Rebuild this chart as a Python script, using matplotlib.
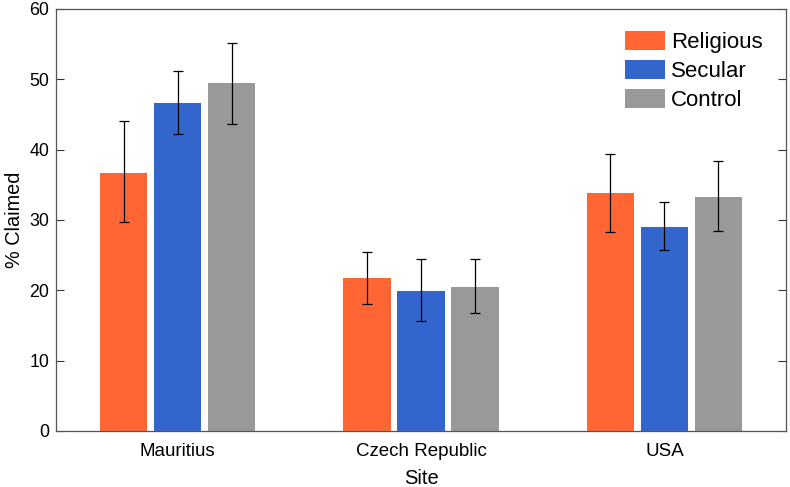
import matplotlib

matplotlib.use("Agg")
import matplotlib.pyplot as plt
import numpy as np

sites = ["Mauritius", "Czech Republic", "USA"]
conditions = ["Religious", "Secular", "Control"]

# mean % claimed per condition, one value per site
means = {
    "Religious": [36.7, 21.7, 33.8],
    "Secular": [46.6, 19.9, 29.0],
    "Control": [49.4, 20.5, 33.2],
}
# error bar ends (lower, upper)
err_lo = {
    "Religious": [29.7, 18.0, 28.3],
    "Secular": [42.2, 15.6, 25.7],
    "Control": [43.6, 16.8, 28.4],
}
err_hi = {
    "Religious": [44.0, 25.4, 39.4],
    "Secular": [51.2, 24.4, 32.5],
    "Control": [55.2, 24.4, 38.3],
}

colors = {"Religious": "#FF6633", "Secular": "#3366CC", "Control": "#999999"}

plt.rcParams["font.family"] = ["Liberation Sans", "DejaVu Sans"]

fig = plt.figure(figsize=(7.9, 4.87), dpi=100)
ax = fig.add_axes([0.071, 0.115, 0.924, 0.867])

x = np.arange(1, len(sites) + 1)
width = 0.195
step = 0.222

for i, cond in enumerate(conditions):
    pos = x + (i - 1) * step
    m = np.array(means[cond])
    yerr = [m - np.array(err_lo[cond]), np.array(err_hi[cond]) - m]
    ax.bar(pos, m, width, color=colors[cond], label=cond, zorder=2)
    ax.errorbar(pos, m, yerr=yerr, fmt="none", ecolor="black",
                elinewidth=0.9, capsize=3.5, capthick=0.9, zorder=3)

ax.set_xlim(0.5, 3.5)
ax.set_ylim(0, 60)
ax.set_xticks(x)
ax.set_xticklabels(sites)
ax.set_yticks(np.arange(0, 61, 10))
ax.tick_params(axis="x", length=0, labelsize=13.5, pad=9)
ax.tick_params(axis="y", direction="in", length=6, width=0.8,
               right=True, labelsize=12.8, color="#333333", pad=5)
for sp in ax.spines.values():
    sp.set_color("#555555")
    sp.set_linewidth(0.9)

ax.set_xlabel("Site", fontsize=14.5, labelpad=6)
ax.set_ylabel("% Claimed", fontsize=14.3, labelpad=4)

ax.legend(loc="upper right", bbox_to_anchor=(0.995, 0.995), frameon=False,
          fontsize=16, handlelength=1.8, handleheight=0.95,
          handletextpad=0.28, labelspacing=0.3)

fig.savefig("out.png", dpi=100)
